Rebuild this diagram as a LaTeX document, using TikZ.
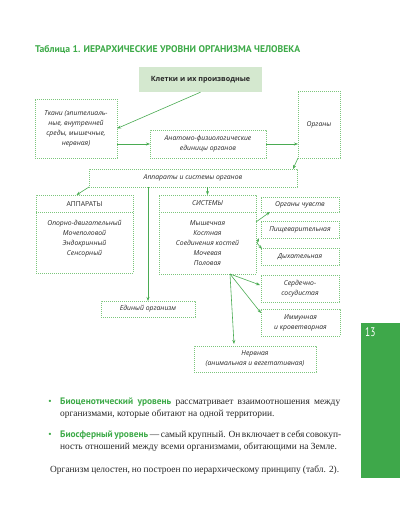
\documentclass[tikz,border=0pt]{standalone}
\usepackage{fontspec}
\setmainfont{Liberation Serif}
\newfontfamily\dsans{Open Sans}
\newfontfamily\tsans{PT Sans}
\usetikzlibrary{arrows.meta,calc}
\definecolor{tgreen}{HTML}{3DAA48}
\definecolor{bgreen}{HTML}{7CC67C}
\definecolor{fgreen}{HTML}{D4E8CF}
\definecolor{agreen}{HTML}{4AAB52}
\definecolor{tabgreen}{HTML}{3EA84A}
\definecolor{txt}{HTML}{262626}
\tikzset{
  box/.style={draw=bgreen, line width=0.6pt, dash pattern=on 0.6pt off 1.4pt, inner sep=0pt, outer sep=0pt},
  dtext/.style={font=\dsans\itshape\fontsize{6.8}{10}\selectfont, text=txt, align=center, inner sep=0pt},
  arr/.style={draw=agreen, line width=0.6pt, -{Stealth[length=4pt,width=3pt]}},
  body/.style={font=\fontsize{9.4}{12}\selectfont, text=txt, anchor=west, inner sep=0pt},
}
\begin{document}
\begin{tikzpicture}[x=1pt,y=-1pt]
\useasboundingbox (0,0) rectangle (400,526);
% title
\node[anchor=west, inner sep=0pt, text=tgreen, font=\tsans\bfseries\fontsize{9.7}{11}\selectfont] (title) at (35,50) {Таблица 1. ИЕРАРХИЧЕСКИЕ УРОВНИ ОРГАНИЗМА ЧЕЛОВЕКА};
% boxes
\node[fill=fgreen, minimum width=123pt, minimum height=25pt, inner sep=0pt, text=txt, font=\dsans\bfseries\fontsize{7.2}{8}\selectfont] (kl) at (200.5,79.5) {Клетки и их производные};
\node[box, minimum width=82pt, minimum height=59pt] (tk) at (76,128.5) {};
\node[dtext] (tkt) at (tk) {Ткани (эпителиаль-\\ные, внутренней\\среды, мышечные,\\нервная)};
\node[box, minimum width=116pt, minimum height=28pt] (an) at (208,144) {};
\node[dtext] (ant) at (an) {Анатомо-физиологические\\единицы органов};
\node[box, minimum width=42pt, minimum height=67pt] (org) at (319,124.5) {};
\node[dtext] (orgt) at (org) {Органы};
\node[box, minimum width=208pt, minimum height=18pt] (aps) at (193,178) {};
\node[dtext] (apst) at (aps) {Аппараты и системы органов};
% apparatus
\node[box, minimum width=97pt, minimum height=78pt] (app) at (84.5,234) {};
\draw[box] (app.west |- 0,212) -- (app.east |- 0,212);
\node[dtext, font=\dsans\fontsize{6.8}{10}\selectfont] (appt) at (84.5,204) {АППАРАТЫ};
\node[dtext] (appl) at (84.5,239) {Опорно-двигательный\\Мочеполовой\\Эндокринный\\Сенсорный};
% systems
\node[box, minimum width=97pt, minimum height=79pt] (sys) at (207.5,234.5) {};
\draw[box] (sys.west |- 0,212) -- (sys.east |- 0,212);
\node[dtext] (syst) at (207.5,203.5) {СИСТЕМЫ};
\node[dtext] (sysl) at (207.5,243.5) {Мышечная\\Костная\\Соединения костей\\Мочевая\\Половая};
% right column
\node[box, minimum width=78pt, minimum height=15pt] (oc) at (300,204.5) {};
\node[dtext] (oct) at (oc) {Органы чувств};
\node[box, minimum width=78pt, minimum height=17pt] (pish) at (300,229.5) {};
\node[dtext] (pisht) at (pish) {Пищеварительная};
\node[box, minimum width=78pt, minimum height=17pt] (dyh) at (300,256.5) {};
\node[dtext] (dyht) at (dyh) {Дыхательная};
\node[box, minimum width=78pt, minimum height=27pt] (ss) at (300,288.5) {};
\node[dtext] (sst) at (ss) {Сердечно-\\сосудистая};
\node[box, minimum width=79pt, minimum height=27pt] (imm) at (300.5,322.5) {};
\node[dtext] (immt) at (imm) {Иммунная\\и кроветворная};
\node[box, minimum width=122pt, minimum height=26pt] (nerv) at (255,359) {};
\node[dtext] (nervt) at (nerv) {Нервная\\(анимальная и вегетативная)};
\node[box, minimum width=94pt, minimum height=16pt] (ed) at (148,309) {};
\node[dtext] (edt) at (ed) {Единый организм};
% arrows
\draw[arr] (kl.south) -- (tk.east);
\draw[arr] (tk.east |- an.west) -- (an.west);
\draw[arr] (an.east) -- (an.east -| org.west);
\draw[arr] (org.south west) -- ($(aps.north east)+(-4,0)$);
\draw[arr] (aps.south west) -- ($(app.north)+(-8,0)$);
\draw[arr] (aps.south -| sys.north) -- (sys.north);
\draw[arr] (aps.south -| ed.north) -- (ed.north);
\draw[arr] ($(sys.north east)+(0,27)$) -- ($(oc.south west)+(9,0)$);
\coordinate (sp) at ($(sys.east)+(1,8.5)$);
\draw[arr] (sp) -- ($(pish.south west)+(-2,0)$);
\draw[arr] (sp) -- ($(dyh.north west)+(1,1)$);
\coordinate (sb) at ($(sys.south)+(22.5,0)$);
\draw[arr] (sb) -- ($(ss.west)+(-1,-3.5)$);
\draw[arr] (sb) -- ($(imm.north west)+(0,4)$);
\draw[arr] (sb) -- ($(nerv.north)+(-21,-2)$);
% side tab
\fill[tabgreen] (361,323) rectangle (400,478);
\node[anchor=north west, inner sep=0pt, text=white, font=\tsans\fontsize{12.5}{12.5}\selectfont] (pg) at (365,327) {\scalebox{0.75}[1]{13}};
% body text
\node[text=tgreen, font=\fontsize{9.4}{12}\selectfont, inner sep=0pt] (b1) at (50,402) {•};
\node[body] (l1) at (60,402) {\makebox[280pt][s]{{\tsans\bfseries\color{tgreen}Биоценотический уровень} рассматривает взаимоотношения между}};
\node[body] (l2) at (60,414) {организмами, которые обитают на одной территории.};
\node[text=tgreen, font=\fontsize{9.4}{12}\selectfont, inner sep=0pt] (b2) at (50,435) {•};
\node[body] (l3) at (60,435) {\makebox[280pt][s]{{\tsans\bfseries\color{tgreen}Биосферный уровень} — самый крупный. Он включает в себя совокуп-}};
\node[body] (l4) at (60,447) {ность отношений между всеми организмами, обитающими на Земле.};
\node[body] (l5) at (50,470) {\makebox[289pt][s]{Организм целостен, но построен по иерархическому принципу (табл. 2).}};
\end{tikzpicture}
\end{document}
